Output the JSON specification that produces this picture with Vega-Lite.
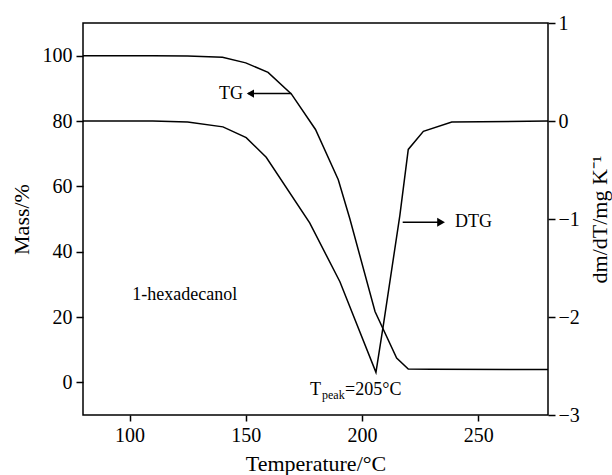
{
  "$schema": "https://vega.github.io/schema/vega-lite/v6.json",
  "width": 465,
  "height": 392,
  "autosize": {"type": "none"},
  "padding": {"left": 83, "top": 23, "right": 64, "bottom": 60},
  "background": "white",
  "config": {
    "view": {"stroke": "black", "strokeWidth": 1.5},
    "axis": {
      "labelFont": "Liberation Serif",
      "titleFont": "Liberation Serif",
      "labelFontSize": 20,
      "titleFontSize": 22,
      "titleFontWeight": "normal",
      "labelColor": "black",
      "titleColor": "black",
      "tickColor": "black",
      "tickWidth": 1.5,
      "tickSize": 6,
      "domain": false,
      "grid": false
    },
    "text": {"font": "Liberation Serif", "color": "black"}
  },
  "datasets": {
    "tg": [
      {"T": 80, "M": 100}, {"T": 110, "M": 100}, {"T": 125, "M": 99.9}, {"T": 140, "M": 99.5},
      {"T": 150, "M": 97.8}, {"T": 159.6, "M": 94.9}, {"T": 169.6, "M": 88.3}, {"T": 180, "M": 77.4},
      {"T": 189.8, "M": 62}, {"T": 194.8, "M": 50}, {"T": 205.6, "M": 21.7}, {"T": 214.9, "M": 7.4},
      {"T": 219.9, "M": 4.1}, {"T": 230, "M": 4}, {"T": 280, "M": 3.9}
    ],
    "dtg": [
      {"T": 80, "D": 0}, {"T": 110, "D": 0}, {"T": 125, "D": -0.01}, {"T": 140.2, "D": -0.06},
      {"T": 150.2, "D": -0.17}, {"T": 158.8, "D": -0.37}, {"T": 177.5, "D": -1.04}, {"T": 190.5, "D": -1.64},
      {"T": 206, "D": -2.565}, {"T": 209.2, "D": -2.08}, {"T": 216.3, "D": -0.96}, {"T": 219.9, "D": -0.29},
      {"T": 226.4, "D": -0.105}, {"T": 238.6, "D": -0.01}, {"T": 280, "D": 0}
    ]
  },
  "encoding": {
    "x": {
      "field": "T",
      "type": "quantitative",
      "scale": {"domain": [80, 280], "nice": false, "zero": false},
      "axis": {
        "values": [100, 150, 200, 250],
        "title": "Temperature/°C",
        "labelPadding": 4,
        "titleX": 232.5,
        "titleY": 55,
        "titleBaseline": "alphabetic",
        "titleAlign": "center"
      }
    }
  },
  "layer": [
    {
      "encoding": {
        "y": {
          "field": "M",
          "type": "quantitative",
          "scale": {"domain": [-10, 110], "nice": false, "zero": false},
          "axis": {
            "orient": "left",
            "values": [0, 20, 40, 60, 80, 100],
            "title": "Mass/%",
            "tickSize": 7,
            "labelPadding": 4,
            "titleAngle": 270,
            "titleX": -54.5,
            "titleY": 196,
            "titleBaseline": "alphabetic",
            "titleAlign": "center"
          }
        }
      },
      "layer": [
        {
          "data": {"name": "tg"},
          "mark": {"type": "line", "color": "black", "strokeWidth": 1.5}
        },
        {
          "data": {"values": [
            {"T": 151, "T2": 169.6, "M": 88.4},
            {"T": 217.5, "T2": 233, "M": 49.0}
          ]},
          "mark": {"type": "rule", "color": "black", "strokeWidth": 1.5},
          "encoding": {"x2": {"field": "T2"}}
        },
        {
          "data": {"values": [{"T": 152, "M": 88.4}]},
          "mark": {"type": "point", "shape": "triangle-left", "filled": true, "color": "black", "opacity": 1, "size": 70}
        },
        {
          "data": {"values": [{"T": 234, "M": 49.0}]},
          "mark": {"type": "point", "shape": "triangle-right", "filled": true, "color": "black", "opacity": 1, "size": 80}
        },
        {
          "data": {"values": [{"T": 148.8, "M": 88.4, "label": "TG"}]},
          "mark": {"type": "text", "align": "right", "baseline": "middle", "fontSize": 18},
          "encoding": {"text": {"field": "label"}}
        },
        {
          "data": {"values": [
            {"T": 240, "M": 49.0, "label": "DTG"},
            {"T": 101.2, "M": 26.7, "label": "1-hexadecanol"}
          ]},
          "mark": {"type": "text", "align": "left", "baseline": "middle", "fontSize": 18},
          "encoding": {"text": {"field": "label"}}
        },
        {
          "data": {"values": [
            {"T": 177.6, "M": -3.9, "label": "T"},
            {"T": 192.7, "M": -3.9, "label": "=205°C"}
          ]},
          "mark": {"type": "text", "align": "left", "baseline": "alphabetic", "fontSize": 18},
          "encoding": {"text": {"field": "label"}}
        },
        {
          "data": {"values": [{"T": 182.8, "M": -5.2, "label": "peak"}]},
          "mark": {"type": "text", "align": "left", "baseline": "alphabetic", "fontSize": 12},
          "encoding": {"text": {"field": "label"}}
        }
      ]
    },
    {
      "data": {"name": "dtg"},
      "mark": {"type": "line", "color": "black", "strokeWidth": 1.5},
      "encoding": {
        "y": {
          "field": "D",
          "type": "quantitative",
          "scale": {"domain": [-3, 1], "nice": false, "zero": false},
          "axis": {
            "orient": "right",
            "values": [-3, -2, -1, 0, 1],
            "title": "dm/dT/mg K⁻¹",
            "tickSize": 7,
            "labelPadding": 3,
            "titleAngle": 270,
            "titleX": 58.7,
            "titleY": 196,
            "titleBaseline": "alphabetic",
            "titleAlign": "center"
          }
        }
      }
    }
  ],
  "resolve": {"scale": {"y": "independent"}}
}
